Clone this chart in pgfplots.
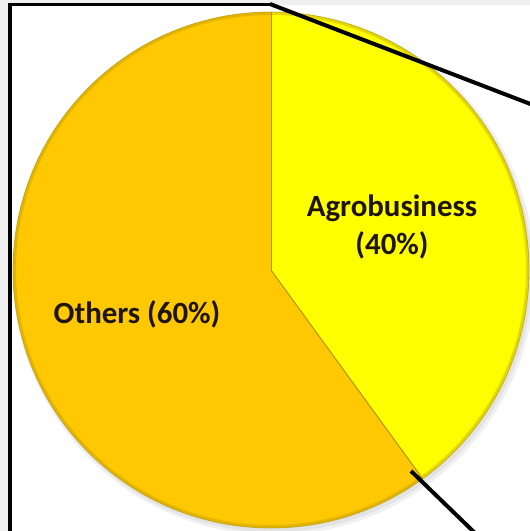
\documentclass[border=0pt]{standalone}
\usepackage{pgfplots}
\pgfplotsset{compat=1.18}
\usepackage{fontspec}
\setmainfont{Carlito}
\definecolor{othersC}{HTML}{FFC800}
\definecolor{agroC}{HTML}{FFFF00}
\definecolor{edgeC}{HTML}{B09200}
\definecolor{bgC}{HTML}{F0F0F0}
\definecolor{txtC}{HTML}{1E1408}
\begin{document}
\begin{tikzpicture}
\def\agro{40}
\def\others{60}
\pgfmathsetmacro{\aEnd}{90-3.6*\agro}
\pgfmathsetmacro{\oEnd}{90+3.6*\others}
\begin{axis}[width=530bp, height=531bp, scale only axis,
  xmin=0, xmax=530, ymin=0, ymax=531, y dir=reverse,
  axis line style={draw=none}, xtick=\empty, ytick=\empty, clip=true]
\fill[bgC] (axis cs:0,0) rectangle (axis cs:530,531);
\fill[white] (axis cs:10,5) rectangle (axis cs:530,531);
% faint shadow
\fill[black, opacity=0.06] (axis cs:274,274) circle[radius=261bp];
\fill[black, opacity=0.05] (axis cs:273,273) circle[radius=259bp];
% slices
\fill[agroC] (axis cs:271,270) -- ++(90:258bp) arc[start angle=90, end angle=\aEnd, radius=258bp] -- cycle;
\fill[othersC] (axis cs:271,270) -- ++(90:258bp) arc[start angle=90, end angle=\oEnd, radius=258bp] -- cycle;
% bevel edge
\draw[edgeC, opacity=0.35, line width=3bp] (axis cs:271,270) circle[radius=256.5bp];
\draw[edgeC, opacity=0.6, line width=0.8bp] (axis cs:271,270) circle[radius=258bp];
\draw[edgeC, line width=1bp] (axis cs:271,270) -- ++(90:258bp);
\draw[edgeC, line width=1bp] (axis cs:271,270) -- ++(\aEnd:258bp);
% labels
\node[anchor=base, text=txtC, font=\bfseries\fontsize{31}{38}\selectfont] at (axis cs:392,216) {Agrobusiness};
\node[anchor=base, text=txtC, font=\bfseries\fontsize{31}{38}\selectfont] at (axis cs:392,254) {(\agro\%)};
\node[anchor=base, text=txtC, font=\bfseries\fontsize{31}{38}\selectfont] at (axis cs:137,323) {Others (\others\%)};
% connector lines and frame
\draw[black, line width=4bp] (axis cs:270,4) -- (axis cs:533,105);
\draw[black, line width=4bp] (axis cs:411,471) -- (axis cs:476,534);
\draw[black, line width=3bp] (axis cs:10,540) -- (axis cs:10,5) -- (axis cs:270,5);
\end{axis}
\end{tikzpicture}
\end{document}
